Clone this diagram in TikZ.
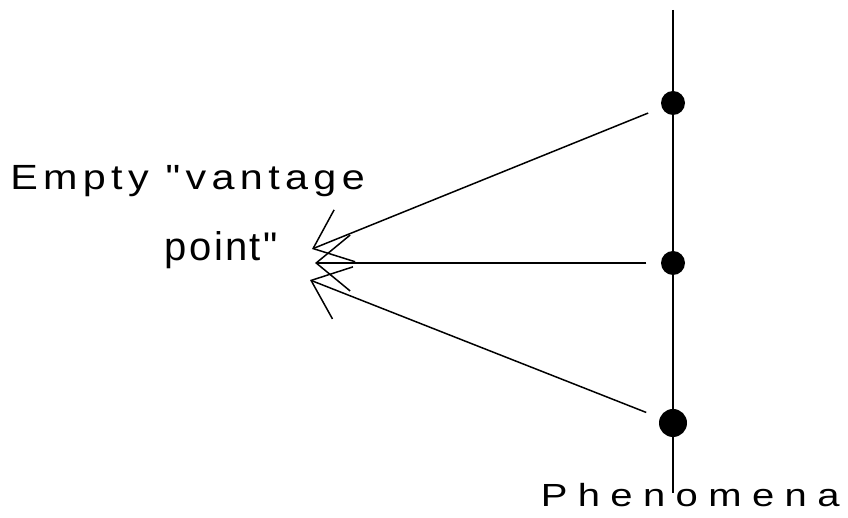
\documentclass[tikz,border=0pt]{standalone}
\usepackage{fontspec}
\setmainfont{Liberation Sans}
\newfontfamily\wideA[LetterSpace=13]{Liberation Sans}
\newfontfamily\wideB[LetterSpace=6]{Liberation Sans}
\newfontfamily\wideC[LetterSpace=26]{Liberation Sans}
\usetikzlibrary{arrows.meta,positioning}

\begin{document}
\begin{tikzpicture}
                    [x=0.5pt,y=-0.5pt,line width=0.75pt,
                     >={Straight Barb[length=17pt,width=28pt]},
                     dot/.style={circle,fill,inner sep=0pt,minimum size=12pt},
                     txt/.style={inner sep=0pt,anchor=base west}]

                \useasboundingbox (0,0) rectangle (848,518);

                \coordinate (top) at (673,10);
                \coordinate (bottom) at (673,493);
                \draw (top) -- (bottom);

                \node[dot] (p1) at (673,103) {};
                \node[dot] (p2) at (673,263) {};
                \node[dot,minimum size=14pt] (p3) at (673,423) {};

                \coordinate (v1) at (312,249);
                \coordinate (v2) at (315,263);
                \coordinate (v3) at (310,280);

                    \draw[->,shorten <=7pt] (p1) -- (v1);
                    \draw[->,shorten <=7pt] (p2) -- (v2);
                    \draw[->,shorten <=7pt] (p3) -- (v3);

                \node[txt] (vantage) at (9.5,190) {\scalebox{1.18}[1]{\wideA\fontsize{17.5}{21}\selectfont Empty "vantage}};
                \node[txt] (point) at (164,261) {\wideB\fontsize{20}{24}\selectfont point"};
                \node[txt] (phen) at (540,507) {\scalebox{1.25}[1]{\wideC\fontsize{16}{19}\selectfont Phenomena}};

                \end{tikzpicture}
\end{document}
